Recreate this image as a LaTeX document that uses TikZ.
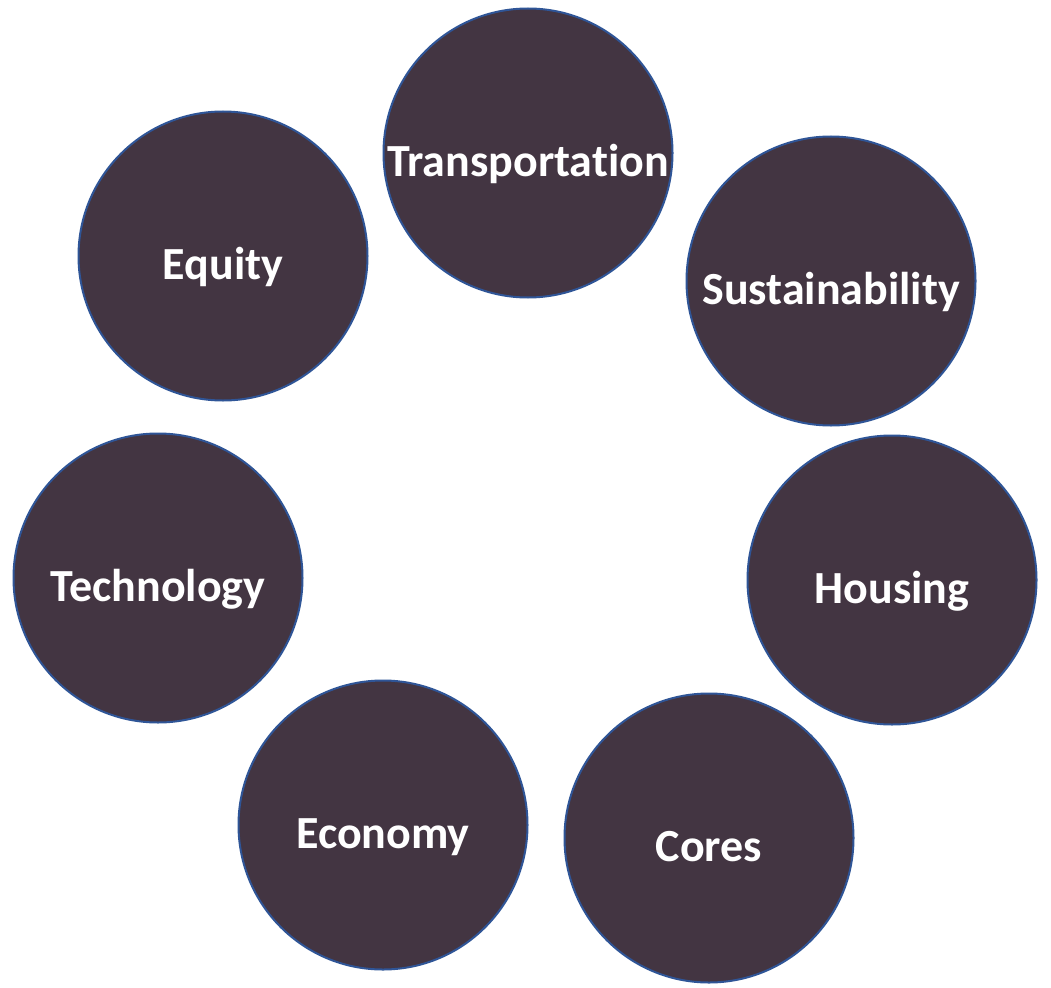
\documentclass[tikz,border=0pt]{standalone}
\usepackage{fontspec}
\setmainfont[Ligatures=NoCommon]{Carlito}
\definecolor{discfill}{HTML}{433542}
\definecolor{discedge}{HTML}{2F5597}
\begin{document}
\begin{tikzpicture}[x=1pt,y=-1pt,
  disc/.style={circle, fill=discfill, draw=discedge, line width=2pt, minimum size=289pt, inner sep=0pt},
  lbl/.style={text=white, font=\fontsize{46}{52}\selectfont\bfseries, inner sep=0pt}]
\useasboundingbox[fill=white] (0,0) rectangle (1051,987);
\node[disc] (transport) at (528,153) {};
\node[disc] (sustain) at (831,281) {};
\node[disc] (housing) at (892,580) {};
\node[disc] (cores) at (709,838) {};
\node[disc] (economy) at (383,825) {};
\node[disc] (technology) at (158,578) {};
\node[disc] (equity) at (223,256) {};
\node[lbl, anchor=base] (tTransport) at ([yshift=-23pt]transport.center) {Transportation};
\node[lbl, anchor=base] (tSustain) at ([yshift=-23pt]sustain.center) {Sustainability};
\node[lbl, anchor=base] (tHousing) at ([yshift=-23pt]housing.center) {Housing};
\node[lbl, anchor=base] (tCores) at ([yshift=-23pt]cores.center) {Cores};
\node[lbl, anchor=base] (tEconomy) at ([yshift=-23pt]economy.center) {Economy};
\node[lbl, anchor=base] (tTechnology) at ([yshift=-23pt]technology.center) {Technology};
\node[lbl, anchor=base] (tEquity) at ([yshift=-23pt]equity.center) {Equity};
\end{tikzpicture}
\end{document}
